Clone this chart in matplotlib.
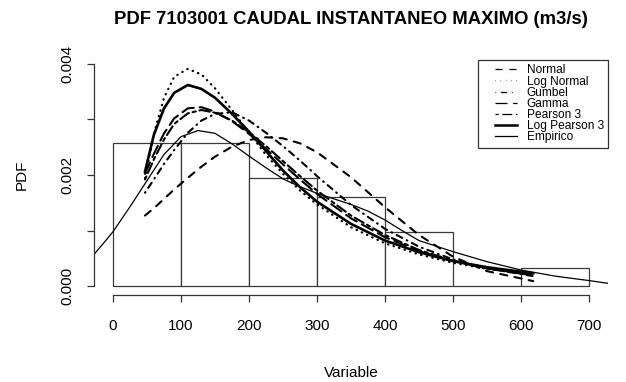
import matplotlib
matplotlib.use("Agg")
import matplotlib.pyplot as plt
from matplotlib.lines import Line2D
from matplotlib.legend_handler import HandlerLine2D

plt.rcParams['font.family'] = ['Liberation Sans', 'DejaVu Sans']

# histogram (density), bins of 100
bin_edges = [0, 100, 200, 300, 400, 500, 600, 700]
bin_density = [0.00258, 0.00258, 0.00194, 0.00161, 0.00097, 0.0, 0.00032]

# fitted pdfs (values x 1e-3)
fit_x = [47, 60, 75, 90, 110, 130, 150, 175, 200, 225, 250, 275, 300, 350, 400, 450, 500, 550, 618]
normal_y = [1.27, 1.40, 1.57, 1.74, 1.95, 2.15, 2.33, 2.51, 2.63, 2.68, 2.66, 2.57, 2.41, 1.96, 1.42, 0.92, 0.53, 0.27, 0.09]
lognormal_y = [1.94, 2.74, 3.39, 3.77, 3.91, 3.81, 3.56, 3.17, 2.76, 2.36, 2.02, 1.72, 1.47, 1.06, 0.77, 0.57, 0.42, 0.31, 0.22]
gumbel_y = [1.68, 1.92, 2.20, 2.45, 2.76, 2.98, 3.10, 3.13, 2.98, 2.76, 2.52, 2.26, 1.98, 1.46, 1.03, 0.71, 0.48, 0.32, 0.18]
gamma_y = [2.02, 2.38, 2.75, 3.02, 3.20, 3.22, 3.14, 2.97, 2.74, 2.47, 2.19, 1.92, 1.66, 1.22, 0.88, 0.63, 0.45, 0.32, 0.20]
pearson3_y = [1.92, 2.28, 2.64, 2.92, 3.11, 3.17, 3.12, 2.98, 2.77, 2.52, 2.25, 1.98, 1.72, 1.27, 0.92, 0.65, 0.46, 0.32, 0.19]
logpearson3_y = [2.06, 2.72, 3.20, 3.48, 3.62, 3.55, 3.39, 3.10, 2.78, 2.43, 2.08, 1.78, 1.52, 1.12, 0.82, 0.61, 0.45, 0.34, 0.23]

# empirical (kernel density)
emp_x = [-28, -10, 0, 25, 50, 75, 100, 125, 150, 175, 200, 225, 250, 275, 300, 325, 350, 375, 400, 425, 450, 475, 500, 550, 600, 650, 700, 728]
emp_y = [0.57, 0.83, 0.98, 1.43, 1.90, 2.37, 2.69, 2.80, 2.75, 2.56, 2.34, 2.13, 1.93, 1.79, 1.67, 1.57, 1.47, 1.35, 1.19, 1.00, 0.82, 0.72, 0.62, 0.44, 0.29, 0.18, 0.10, 0.05]

x_ticks = [0, 100, 200, 300, 400, 500, 600, 700]
y_ticks = [0.0, 0.001, 0.002, 0.003, 0.004]
y_labels = ["0.000", "", "0.002", "", "0.004"]

fig = plt.figure(figsize=(6.26, 3.82), dpi=100)
ax = fig.add_axes([94/626, 1-295/382, 514/626, 240/382])

widths = [bin_edges[i+1]-bin_edges[i] for i in range(len(bin_density))]
ax.bar(bin_edges[:-1], bin_density, width=widths, align='edge', facecolor='white',
       edgecolor='#3a3a3a', linewidth=0.9)

styles = [
    ("Normal", normal_y, (3.5, 3.5), 1.5),
    ("Log Normal", lognormal_y, (0.2, 2.4), 1.6),
    ("Gumbel", gumbel_y, (0.4, 2.4, 3.0, 2.4), 1.5),
    ("Gamma", gamma_y, (6.0, 2.8), 1.5),
    ("Pearson 3", pearson3_y, (1.6, 1.8, 5.0, 1.8), 1.5),
]
for name, ys, dash, lw in styles:
    ax.plot(fit_x, [v*1e-3 for v in ys], color='black', lw=lw, dashes=dash,
            dash_capstyle='round', solid_capstyle='round')
ax.plot(fit_x, [v*1e-3 for v in logpearson3_y], color='black', lw=1.9)
ax.plot(emp_x, [v*1e-3 for v in emp_y], color='black', lw=0.9)

ax.set_xlim(-28, 728)
ax.set_ylim(-0.00016, 0.00416)

for s in ['top', 'right']:
    ax.spines[s].set_visible(False)
ax.spines['left'].set_bounds(0, 0.004)
ax.spines['bottom'].set_bounds(0, 700)
for s in ['left', 'bottom']:
    ax.spines[s].set_color('#333333')
    ax.spines[s].set_linewidth(0.9)

ax.set_xticks(x_ticks)
ax.set_xticklabels([str(t) for t in x_ticks])
ax.set_yticks(y_ticks)
ax.set_yticklabels(y_labels, rotation=90, va='center')
ax.tick_params(axis='both', length=5, width=0.9, color='#333333', labelsize=11)
ax.tick_params(axis='x', pad=12)
ax.tick_params(axis='y', pad=9)

ax.set_xlabel("Variable", fontsize=11, labelpad=24)
ax.set_ylabel("PDF", fontsize=11, labelpad=23)
ax.set_title("PDF 7103001 CAUDAL INSTANTANEO MAXIMO (m3/s)", fontsize=13.3,
             fontweight='bold', pad=22)

handles = []
for name, ys, dash, lw in styles:
    handles.append(Line2D([], [], color='black', lw=0.9,
                          dashes=tuple(d*1.6 for d in dash), label=name))
handles.append(Line2D([], [], color='black', lw=1.8, label="Log Pearson 3"))
handles.append(Line2D([], [], color='black', lw=0.9, label="Empirico"))
leg = ax.legend(handles=handles, loc='upper right', bbox_to_anchor=(1.0, 0.978),
                fontsize=8.6, frameon=True, fancybox=False, framealpha=1,
                edgecolor='#333333', borderpad=0.35, labelspacing=-0.07,
                handlelength=2.9, handletextpad=0.8, borderaxespad=0,
                handler_map={Line2D: HandlerLine2D(xpad=1.05)})
leg.get_frame().set_linewidth(0.9)

fig.savefig("out.png", dpi=100)
